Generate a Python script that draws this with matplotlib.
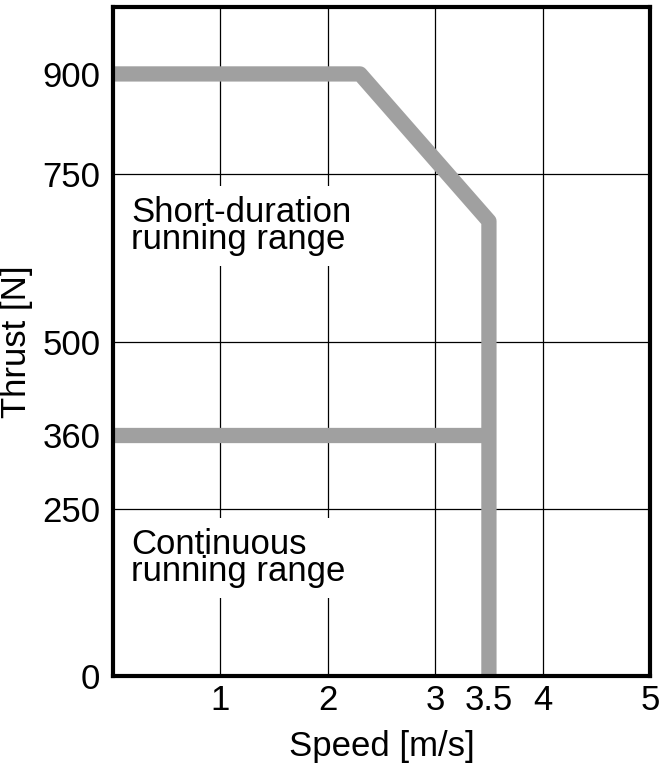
import matplotlib

matplotlib.use("Agg")
import matplotlib.pyplot as plt

# thrust-speed characteristic
short_speed = [0, 2.3, 3.5, 3.5]
short_thrust = [900, 900, 680, 0]
cont_speed = [0, 3.5]
cont_thrust = [360, 360]

x_ticks = [1, 2, 3, 3.5, 4, 5]
x_labels = ["1", "2", "3", "3.5", "4", "5"]
y_ticks = [0, 250, 360, 500, 750, 900]
y_labels = ["0", "250", "360", "500", "750", "900"]
grid_x = [1, 2, 3, 4]
grid_y = [250, 500, 750]

plt.rcParams["font.family"] = ["Liberation Sans", "DejaVu Sans"]

fig = plt.figure(figsize=(6.6, 7.65), dpi=100)
ax = fig.add_axes([0.171, 0.1163, 0.814, 0.8745])
ax.set_xlim(0, 5)
ax.set_ylim(0, 1000)

for gx in grid_x:
    ax.axvline(gx, color="black", linewidth=0.9, zorder=1)
for gy in grid_y:
    ax.axhline(gy, color="black", linewidth=0.9, zorder=1)

gray = "#a0a0a0"
ax.plot(short_speed, short_thrust, color=gray, linewidth=11, solid_joinstyle="round",
        solid_capstyle="butt", zorder=3)
ax.plot(cont_speed, cont_thrust, color=gray, linewidth=11, solid_capstyle="butt", zorder=3)

box = dict(facecolor="white", edgecolor="none", pad=7)
ax.text(0.17, 718, "Short-duration\nrunning range", fontsize=25, va="top", ha="left",
        linespacing=0.78, bbox=box, zorder=2)
ax.text(0.17, 222, "Continuous\nrunning range", fontsize=25, va="top", ha="left",
        linespacing=0.78, bbox=box, zorder=2)

ax.set_xticks(x_ticks)
ax.set_xticklabels(x_labels)
ax.set_yticks(y_ticks)
ax.set_yticklabels(y_labels)
ax.tick_params(length=0, labelsize=25)
ax.tick_params(axis="y", pad=9)
ax.tick_params(axis="x", pad=6)
ax.set_xlabel("Speed [m/s]", fontsize=25, labelpad=9)
ax.set_ylabel("Thrust [N]", fontsize=25, labelpad=7)

for s in ax.spines.values():
    s.set_linewidth(3)
    s.set_zorder(4)

fig.savefig("out.png", dpi=100)
